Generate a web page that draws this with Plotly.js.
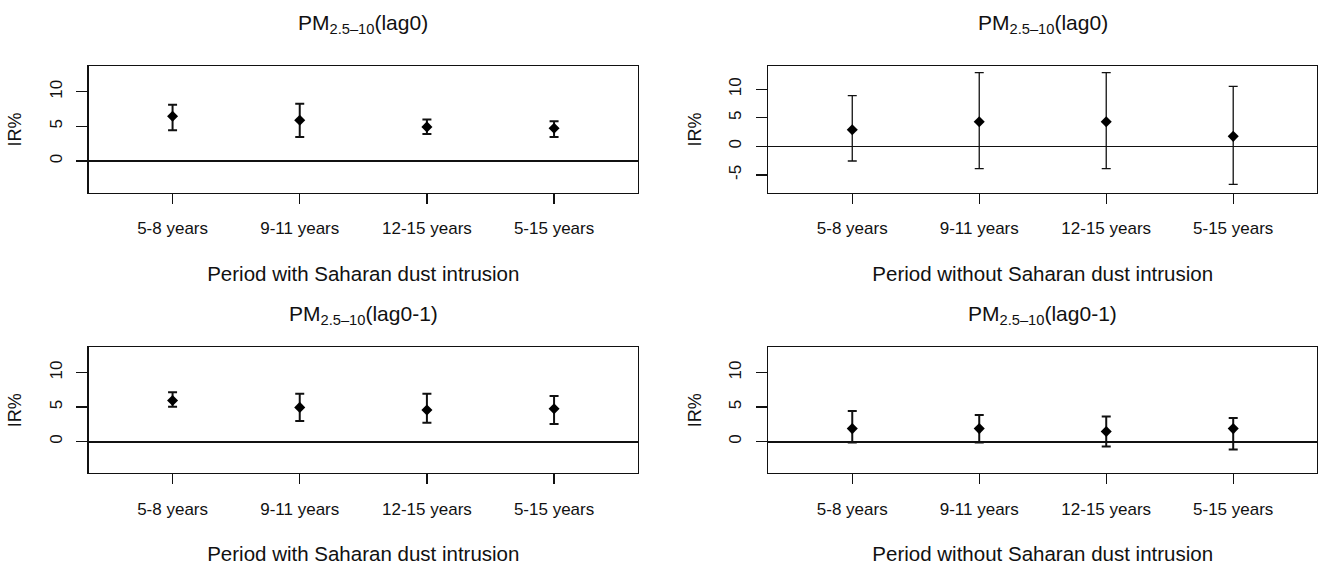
<!DOCTYPE html>
<html>
<head>
<meta charset="utf-8">
<script src="https://cdn.plot.ly/plotly-3.0.1.min.js"></script>
<style>html,body{margin:0;padding:0;background:#fff;}#chart{width:1319px;height:566px;}</style>
</head>
<body>
<div id="chart"></div>
<script>
// ---- data ----
const categories = ["5-8 years", "9-11 years", "12-15 years", "5-15 years"];
const catPos = [1, 2, 3, 4];

const panelTitles = ["PM<sub>2.5\u201310</sub>(lag0)", "PM<sub>2.5\u201310</sub>(lag0)",
                     "PM<sub>2.5\u201310</sub>(lag0-1)", "PM<sub>2.5\u201310</sub>(lag0-1)"];
const xTitles = ["Period with Saharan dust intrusion", "Period without Saharan dust intrusion",
                 "Period with Saharan dust intrusion", "Period without Saharan dust intrusion"];
const yTitle = "IR%";

// top-left: with dust, lag0
const withLag0Est   = [6.47, 5.89, 4.93, 4.73];
const withLag0Upper = [8.12, 8.26, 5.99, 5.75];
const withLag0Lower = [4.44, 3.48, 3.91, 3.48];
// top-right: without dust, lag0
const withoutLag0Est   = [2.92, 4.33, 4.33, 1.75];
const withoutLag0Upper = [8.89, 12.92, 12.92, 10.53];
const withoutLag0Lower = [-2.57, -3.92, -3.92, -6.67];
// bottom-left: with dust, lag0-1
const withLag01Est   = [5.96, 4.95, 4.57, 4.76];
const withLag01Upper = [7.16, 6.92, 6.92, 6.59];
const withLag01Lower = [5.05, 2.98, 2.74, 2.55];
// bottom-right: without dust, lag0-1
const withoutLag01Est   = [1.88, 1.88, 1.45, 1.88];
const withoutLag01Upper = [4.44, 3.86, 3.62, 3.43];
const withoutLag01Lower = [-0.14, -0.14, -0.72, -1.16];

const yTicksStd = [0, 5, 10];
const yTickTextStd = ["0", "5", "10"];
const yTicksWide = [-5, 0, 5, 10];
const yTickTextWide = ["-5", "0", "5", "10"];

// ---- build ----
const FONT = "Liberation Sans, Arial, sans-serif";
const INK = "#111";

const panels = [
  {est: withLag0Est, up: withLag0Upper, lo: withLag0Lower, yr: [-4.6, 13.7], yt: yTicksStd, ytt: yTickTextStd, lw: 2, zw: 2,
   xd: [0.0672, 0.4837], yd: [0.6595, 0.8829], ty: 0.9576},
  {est: withoutLag0Est, up: withoutLag0Upper, lo: withoutLag0Lower, yr: [-8.13, 14.04], yt: yTicksWide, ytt: yTickTextWide, lw: 1.3, zw: 1.2,
   xd: [0.5826, 0.9985], yd: [0.6595, 0.8829], ty: 0.9576},
  {est: withLag01Est, up: withLag01Upper, lo: withLag01Lower, yr: [-4.55, 13.65], yt: yTicksStd, ytt: yTickTextStd, lw: 2, zw: 2,
   xd: [0.0672, 0.4837], yd: [0.1643, 0.3864], ty: 0.4435},
  {est: withoutLag01Est, up: withoutLag01Upper, lo: withoutLag01Lower, yr: [-4.55, 13.65], yt: yTicksStd, ytt: yTickTextStd, lw: 2, zw: 2,
   xd: [0.5826, 0.9985], yd: [0.1643, 0.3864], ty: 0.4435}
];

const traces = [];
const layout = {
  width: 1319, height: 566,
  margin: {l: 0, r: 0, t: 0, b: 0},
  paper_bgcolor: "#fff", plot_bgcolor: "#fff",
  showlegend: false,
  font: {family: FONT, color: INK, size: 17},
  annotations: []
};

panels.forEach((p, i) => {
  const n = i + 1;
  const xa = n === 1 ? "xaxis" : "xaxis" + n;
  const ya = n === 1 ? "yaxis" : "yaxis" + n;
  traces.push({
    type: "scatter", mode: "markers",
    x: catPos, y: p.est,
    xaxis: "x" + (n === 1 ? "" : n), yaxis: "y" + (n === 1 ? "" : n),
    marker: {symbol: "diamond", size: 8.5, color: "#000"},
    error_y: {
      type: "data", symmetric: false,
      array: p.up.map((u, k) => u - p.est[k]),
      arrayminus: p.lo.map((l, k) => p.est[k] - l),
      color: INK, thickness: p.lw, width: 4.5
    },
    hoverinfo: "skip"
  });
  layout[xa] = {
    domain: p.xd, anchor: "y" + (n === 1 ? "" : n),
    range: [0.34, 4.66],
    tickmode: "array", tickvals: catPos, ticktext: categories,
    ticks: "outside", ticklen: 10, tickwidth: 1.3, tickcolor: INK,
    ticklabelstandoff: 10,
    showline: true, mirror: true, linecolor: INK, linewidth: 1.3,
    showgrid: false, zeroline: false,
    tickfont: {family: FONT, size: 17, color: INK},
    title: {text: xTitles[i], font: {family: FONT, size: 20.5, color: INK}, standoff: 29}
  };
  layout[ya] = {
    domain: p.yd, anchor: "x" + (n === 1 ? "" : n),
    range: p.yr,
    tickmode: "array", tickvals: p.yt, ticktext: p.ytt,
    tickangle: -90,
    ticks: "outside", ticklen: 11, tickwidth: 1.3, tickcolor: INK,
    ticklabelstandoff: 8,
    showline: true, mirror: true, linecolor: INK, linewidth: 1.3,
    showgrid: false,
    zeroline: true, zerolinecolor: INK, zerolinewidth: p.zw,
    tickfont: {family: FONT, size: 17, color: INK},
    title: {text: yTitle, font: {family: FONT, size: 18, color: INK}, standoff: 20}
  };
  layout.annotations.push({
    xref: "paper", yref: "paper",
    x: (p.xd[0] + p.xd[1]) / 2, y: p.ty,
    xanchor: "center", yanchor: "middle",
    text: panelTitles[i], showarrow: false,
    font: {family: FONT, size: 21, color: INK}
  });
});

Plotly.newPlot("chart", traces, layout, {staticPlot: true, displayModeBar: false});
</script>
</body>
</html>
